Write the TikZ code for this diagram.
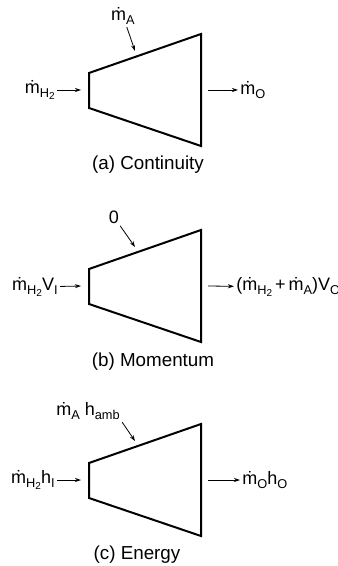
\documentclass[tikz,border=0pt]{standalone}
\usepackage{fontspec}
\setmainfont{Liberation Sans}
\usetikzlibrary{arrows.meta,positioning}

\newcommand{\md}{\.{m}}
\newcommand{\sbs}[1]{\raisebox{-0.45ex}{\fontsize{6.4}{7}\selectfont #1}}
\newcommand{\ssbs}[1]{\raisebox{-0.35ex}{\fontsize{5}{6}\selectfont #1}}

\begin{document}
\begin{tikzpicture}[
    x=0.5pt, y=-0.5pt,
    duct/.style={draw, line width=1pt, line join=miter},
    arr/.style={-{Stealth[length=3pt,width=2pt]}, line width=0.4pt},
    lbl/.style={inner sep=1pt, font=\fontsize{9}{10}\selectfont},
    capt/.style={inner sep=1pt, font=\fontsize{9.4}{11}\selectfont},
  ]
    \useasboundingbox (0,0) rectangle (337,566);

    % the three ducts
    \foreach \p/\oy in {a/0,b/196,c/390}{
      \coordinate (\p-tl) at (89,73+\oy);
      \coordinate (\p-bl) at (89,108+\oy);
      \coordinate (\p-tr) at (201,34+\oy);
      \coordinate (\p-br) at (201,146+\oy);
      \coordinate (\p-in) at (81,90+\oy);
      \coordinate (\p-out) at (208,90+\oy);
      \coordinate (\p-top) at (135,51+\oy);
      \draw[duct] (\p-tl) -- (\p-tr) -- (\p-br) -- (\p-bl) -- cycle;
    }

    % (a) continuity
    \node[lbl, anchor=east] (mha) at (57,90) {\md\sbs{H\ssbs{2}}};
    \node[lbl, anchor=west] (moa) at (238,90) {\md\sbs{O}};
    \node[lbl] (maa) at (123,16) {\md\sbs{A}};
    \node[capt] (capa) at (148,165) {(a) Continuity};
    \draw[arr] (mha) -- (a-in);
    \draw[arr] (a-out) -- (moa);
    \draw[arr] (maa) -- (a-top);

    % (b) momentum
    \node[lbl, anchor=east] (mhb) at (60,287) {\md\sbs{H\ssbs{2}}V\sbs{I}};
    \node[lbl, anchor=west] (mob) at (234,287) {(\md\sbs{H\ssbs{2}}\,+\,\md\sbs{A})V\sbs{O}};
    \node[lbl] (zerob) at (114,217) {0};
    \node[capt] (capb) at (153,362) {(b) Momentum};
    \draw[arr] (mhb) -- (b-in);
    \draw[arr] (b-out) -- (mob);
    \draw[arr] (zerob) -- (b-top);

    % (c) energy
    \node[lbl, anchor=east] (mhc) at (57,480) {\md\sbs{H\ssbs{2}}h\sbs{I}};
    \node[lbl, anchor=west] (moc) at (240,480) {\md\sbs{O}h\sbs{O}};
    \node[lbl] (mac) at (88,411) {\md\sbs{A} h\sbs{amb}};
    \node[capt] (capc) at (137,555) {(c) Energy};
    \draw[arr] (mhc) -- (c-in);
    \draw[arr] (c-out) -- (moc);
    \draw[arr] (mac.south east) -- (c-top);
  \end{tikzpicture}
\end{document}
